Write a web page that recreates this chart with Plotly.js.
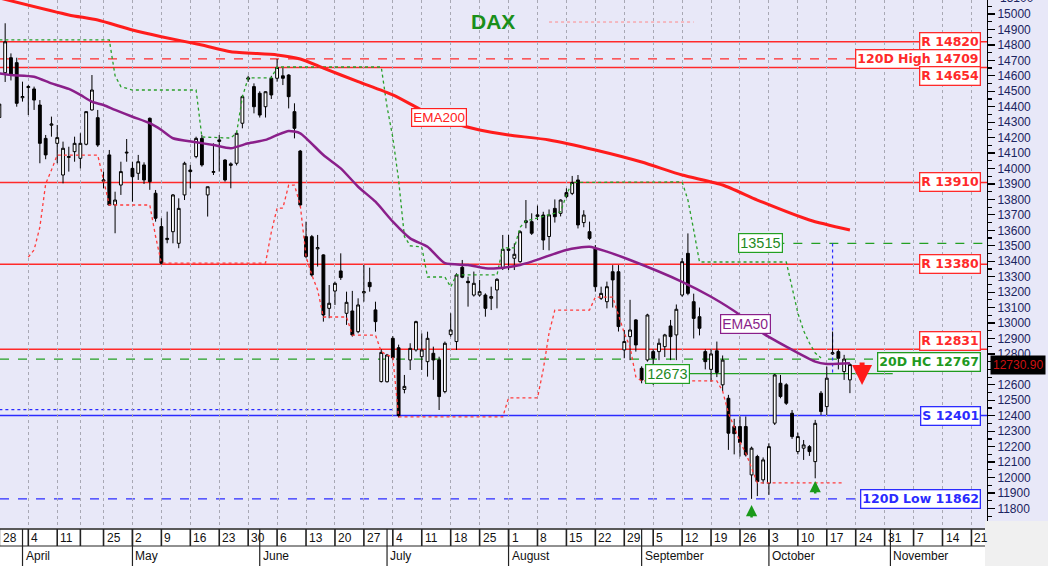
<!DOCTYPE html>
<html><head><meta charset="utf-8">
<script src="https://cdn.plot.ly/plotly-3.0.1.min.js"></script>
<style>html,body{margin:0;padding:0;background:#fff;}#chart{width:1048px;height:566px;}</style>
</head><body><div id="chart"></div>
<script>
// ---------- data ----------
const firstDay = '2022-03-28';
const lastDay = '2022-11-25';
const holidays = ['2022-04-15', '2022-04-18'];

const openP = [14330,14620,14717,14685,14458,14524,14515,14411,14195,14280,14163,13958,14072,14109,14066,14157,14379,14329,13918,14088,13764,13893,14100,14001,13969,14023,14325,13840,13624,13540,13591,13516,13829,13990,14077,14195,13829,13975,14175,14055,14020,14034,14293,14578,14530,14487,14400,14584,14584,14600,14605,14368,14113,13559,13559,13480,13441,13095,13207,13337,13063,13078,12944,13195,13263,13085,12621,12620,12901,12840,12570,12761,12826,12782,12750,12804,12761,12556,12925,12880,13361,13270,13181,13181,13181,13160,13214,13354,13470,13419,13397,13650,13656,13690,13699,13560,13742,13710,13844,13839,13926,13650,13591,13483,13160,13138,13332,13332,12826,12912,13020,12707,12761,12815,12815,12847,12981,12923,13181,13451,13138,13041,12815,12700,12820,12600,12513,12330,12330,12330,12017,12136,11985,11963,12352,12610,12600,12416,12168,12190,12200,12103,12546,12459,12800,12815,12686,12632];
const highP = [14470,14940,14745,14717,14562,14540,14530,14443,14217,14336,14282,14174,14141,14206,14228,14370,14605,14379,13980,14120,13850,14044,14191,14044,14088,14040,14330,13861,13678,13721,13835,13807,14044,14023,14206,14217,13882,14163,14217,14060,14040,14239,14476,14600,14551,14500,14500,14600,14709,14650,14610,14422,14120,13656,13570,13570,13445,13246,13268,13451,13203,13208,13160,13376,13358,13138,12830,12800,12915,12860,12664,12869,13015,12933,12944,12847,12782,12880,13063,13322,13408,13300,13333,13279,13192,13235,13290,13570,13570,13516,13600,13796,13710,13760,13720,13735,13800,13800,13872,13952,13958,13730,13656,13505,13235,13268,13375,13375,12955,13150,13025,12720,13060,12830,12900,12930,13020,13120,13420,13580,13190,13100,12830,12830,12880,12790,12535,12380,12395,12395,12200,12147,12130,12222,12670,12664,12610,12437,12290,12243,12210,12373,12560,12718,12945,12830,12794,12740];
const lowP = [14230,14560,14570,14400,14433,14346,14379,14034,14060,14206,14034,13904,13980,14044,14001,14150,14375,14140,13872,13760,13581,13829,14044,13785,13926,13900,13862,13656,13380,13516,13516,13484,13796,13872,14066,14012,13689,13958,13980,13915,13872,14020,14260,14560,14357,14330,14330,14450,14562,14540,14389,14195,13750,13420,13300,13365,13009,13031,13117,13279,12988,12912,12934,13138,13203,12944,12615,12615,12760,12390,12545,12696,12815,12696,12653,12632,12437,12545,12912,12826,13290,13106,13171,13171,13041,13084,13095,13343,13343,13343,13390,13613,13570,13666,13473,13470,13650,13690,13808,13828,13612,13620,13537,13203,13149,13095,13100,12945,12772,12760,12815,12610,12750,12600,12760,12780,12760,12760,13170,13180,12900,12920,12700,12620,12650,12560,12179,12150,12136,12136,11862,11880,11960,11888,12340,12513,12470,12250,12150,12114,12140,11995,12405,12405,12794,12700,12632,12546];
const closeP = [14417,14820,14605,14422,14466,14530,14443,14163,14088,14288,14200,14131,14077,14163,14163,14368,14508,14152,13926,13764,13796,13980,14105,13947,14044,13926,13915,13678,13387,13548,13829,13742,14034,13980,14195,14023,13882,13980,14185,13926,14030,14228,14465,14586,14400,14346,14497,14476,14654,14584,14465,14260,13764,13430,13311,13488,13052,13128,13257,13294,13134,12923,13117,13203,13235,13009,12810,12793,12775,12401,12590,12836,13009,12826,12901,12761,12524,12869,12955,13311,13296,13261,13257,13203,13095,13171,13283,13477,13479,13445,13591,13662,13581,13700,13537,13700,13688,13796,13818,13910,13635,13699,13548,13235,13192,13235,13279,12977,12880,12955,12858,12631,13052,12772,12869,12923,12912,13089,13397,13192,13030,12966,12750,12800,12680,12760,12287,12284,12227,12147,12190,11974,12114,12200,12664,12524,12481,12265,12265,12211,12168,12351,12427,12643,12808,12772,12767,12731];

// EMA lines (trading-day position, value)
const ema200Pos = [0,12,17,23,28,35,40,48,52,56,62,68,73,78,83,88,95,103,111,118,125,131,140,147];
const ema200Val = [15104,14994,14961,14896,14853,14799,14756,14735,14709,14650,14562,14476,14379,14301,14249,14217,14185,14120,14042,13958,13893,13796,13667,13602];
const ema50Pos = [0,2,6,9,12,14,16,18,20,23,26,28,30,34,37,40,43,46,48,50,52,56,59,62,65,68,71,74,77,81,84,86,90,92,98,102,105,109,118,123,128,132,136,141,143,147];
const ema50Val = [14616,14605,14594,14551,14515,14476,14432,14411,14379,14335,14293,14249,14196,14170,14152,14131,14163,14185,14217,14243,14228,14087,14001,13882,13785,13656,13548,13494,13387,13376,13354,13354,13376,13397,13473,13494,13462,13408,13267,13170,13052,12933,12847,12750,12735,12739];

// stepped channel lines
const upperPos = [0,19,20,21,23,34,35,40,41,42,43,47,48,66,67,68,69,70,71,73,74,77,78,79,86,87,89,90,91,93,97,98,99,118,119,120,121,136,137,138,139,140,141,142];
const upperVal = [14832,14832,14600,14530,14508,14508,14204,14197,14230,14463,14586,14586,14657,14657,14400,14200,13926,13560,13500,13492,13298,13298,13233,13311,13311,13486,13486,13620,13660,13680,13720,13829,13910,13913,13796,13602,13395,13395,13233,13065,12950,12871,12806,12774];
const lowerPos = [5,6,7,8,9,10,17,18,19,26,27,28,46,47,48,49,50,51,52,53,54,55,56,60,61,65,66,67,68,69,87,88,93,94,95,96,102,103,106,107,108,109,110,111,124,125,126,127,128,129,130,131,146];
const lowerVal = [13427,13473,13621,13900,13990,14087,14087,13930,13764,13764,13560,13388,13388,13589,13744,13744,13893,13893,13764,13430,13311,13214,13039,13039,12922,12922,12815,12793,12780,12392,12392,12515,12515,12700,12935,13084,13084,13168,13168,13052,12935,12845,12651,12625,12625,12560,12418,12327,12230,12159,12060,11965,11965];

// horizontal levels
const levelVals   = [14820, 14709, 14654, 13910, 13380, 12831, 12767, 12401, 11862];
const levelLabels = ['R 14820', '120D High 14709', 'R 14654', 'R 13910', 'R 13380', 'R 12831', '20D HC 12767', 'S 12401', '120D Low 11862'];
const levelKinds  = ['R', 'Hd', 'R', 'R', 'R', 'R', 'Gd', 'S', 'Sd'];
const extraLevels = {upper13515: 13515, close12673: 12673, dottedBlue: 12440};
const lastPrice = 12730.90;
const yTickVals = [11800,11900,12000,12100,12200,12300,12400,12500,12600,12700,12800,12900,13000,13100,13200,13300,13400,13500,13600,13700,13800,13900,14000,14100,14200,14300,14400,14500,14600,14700,14800,14900,15000];
const monthNames = ['January','February','March','April','May','June','July','August','September','October','November','December'];

// ---------- calendar ----------
function iso(d){return d.toISOString().slice(0,10);}
const days = [];
for (let d = new Date(firstDay + 'T00:00:00Z'); iso(d) <= lastDay; d.setUTCDate(d.getUTCDate()+1)) {
  const wd = d.getUTCDay();
  if (wd === 0 || wd === 6 || holidays.includes(iso(d))) continue;
  days.push({s: iso(d), wd: wd, day: d.getUTCDate(), month: d.getUTCMonth()});
}
const nC = closeP.length;
const xs = days.slice(0, nC).map((_, i) => i);

const weekStarts = [], monthStarts = [];
days.forEach((d, i) => {
  if (i === 0 || d.wd <= days[i-1].wd) weekStarts.push(i);
  if (i === 0 || d.month !== days[i-1].month) monthStarts.push(i);
});

const xRange = [0.109, 170.69];
const yRange = [11673.4, 15090.6];
const PH = 528;               // plot height in px
const PW = 987;               // plot width in px
const yp = Y => (PH - Y) / PH;

// ---------- traces ----------
const traces = [
  {type:'scatter', mode:'lines', x: lowerPos, y: lowerVal, line:{color:'#ff3b3b', width:1.3, dash:'dot'}, hoverinfo:'skip'},
  {type:'scatter', mode:'lines', x: upperPos, y: upperVal, line:{color:'#2aa02a', width:1.3, dash:'dot'}, hoverinfo:'skip'},
  {type:'scatter', mode:'lines', x: ema200Pos, y: ema200Val, line:{color:'#ff1c1c', width:3, shape:'spline', smoothing:0.6}, hoverinfo:'skip'},
  {type:'scatter', mode:'lines', x: ema50Pos, y: ema50Val, line:{color:'#8a1f8a', width:2.5, shape:'spline', smoothing:0.6}, hoverinfo:'skip'},
  {type:'candlestick', x: xs, open: openP, high: highP, low: lowP, close: closeP,
   increasing:{line:{color:'#000', width:1}, fillcolor:'#ffffff'},
   decreasing:{line:{color:'#000', width:1}, fillcolor:'#000000'},
   whiskerwidth:0, hoverinfo:'skip'}
];

// ---------- shapes ----------
const shapes = [];
const colR = '#ff2a2a', colG = '#23a023', colB = '#2b2bff';
levelVals.forEach((v, k) => {
  const kind = levelKinds[k];
  const color = kind[0] === 'R' || kind[0] === 'H' ? colR : (kind[0] === 'G' ? colG : colB);
  const dash = kind.length > 1 ? 'dash' : 'solid';
  shapes.push({type:'line', xref:'paper', yref:'y', x0:0, x1:1, y0:v, y1:v,
    line:{color: color, width: dash === 'solid' ? 1.5 : 1.2, dash: dash}, layer:'below'});
});
shapes.push({type:'line', xref:'x', yref:'y', x0:0, x1:68.4, y0:extraLevels.dottedBlue, y1:extraLevels.dottedBlue, line:{color:colB, width:1.2, dash:'dot'}, layer:'below'});
shapes.push({type:'line', xref:'x', yref:'y', x0:112, x1:154.4, y0:extraLevels.close12673, y1:extraLevels.close12673, line:{color:colG, width:1.3}, layer:'below'});
shapes.push({type:'line', xref:'x', yref:'y', x0:131, x1:xRange[1], y0:extraLevels.upper13515, y1:extraLevels.upper13515, line:{color:colG, width:1.2, dash:'dash'}, layer:'below'});
shapes.push({type:'line', xref:'x', yref:'y', x0:144, x1:144, y0:extraLevels.upper13515, y1:extraLevels.close12673, line:{color:colB, width:1.2, dash:'dot'}, layer:'below'});
shapes.push({type:'line', xref:'x', yref:'y', x0:95, x1:120, y0:14948, y1:14948, line:{color:'#ff8a8a', width:1, dash:'dot'}, layer:'below'});

// date strip
shapes.push({type:'rect', xref:'paper', yref:'paper', x0:0, x1:985/PW, y0:yp(528), y1:yp(566), fillcolor:'#ffffff', line:{width:0}});
shapes.push({type:'rect', xref:'paper', yref:'paper', x0:985/PW, x1:1048/PW, y0:yp(521), y1:yp(566), fillcolor:'#f0f0f0', line:{width:0}});
shapes.push({type:'line', xref:'paper', yref:'paper', x0:0, x1:985/PW, y0:yp(529), y1:yp(529), line:{color:'#222', width:1.5}});
shapes.push({type:'line', xref:'paper', yref:'paper', x0:0, x1:985/PW, y0:yp(546), y1:yp(546), line:{color:'#222', width:1}});
weekStarts.forEach(i => shapes.push({type:'line', xref:'x', yref:'paper', x0:i, x1:i, y0:yp(529), y1:yp(546), line:{color:'#222', width:1.6}}));
monthStarts.forEach(i => shapes.push({type:'line', xref:'x', yref:'paper', x0:i, x1:i, y0:yp(529), y1:yp(566), line:{color:'#222', width:1.2}}));

// ---------- annotations ----------
const ann = [];
const lvlFont = (c) => ({family:'DejaVu Sans, Arial, sans-serif', size:12.5, color:c});
const shiftMap = {'R 14654': -9, 'R 12831': 8, '20D HC 12767': -3};
levelVals.forEach((v, k) => {
  const kind = levelKinds[k];
  const color = kind[0] === 'R' || kind[0] === 'H' ? colR : (kind[0] === 'G' ? '#1f9a1f' : colB);
  ann.push({xref:'paper', yref:'y', x: 981/PW, y: v, xanchor:'right', yanchor:'middle', showarrow:false,
    text:'<b>' + levelLabels[k] + '</b>', font: lvlFont(color), bgcolor:'#ffffff', bordercolor: color, borderwidth:1.3, borderpad:1,
    yshift: shiftMap[levelLabels[k]] || 0});
});
ann.push({xref:'x', yref:'y', x:76, y:14327, showarrow:false, text:'EMA200', font:{family:'Arial', size:13.5, color:'#ff2020'}, bgcolor:'#fff', bordercolor:'#ff2020', borderwidth:1.2, borderpad:1});
ann.push({xref:'x', yref:'y', x:129, y:12994, showarrow:false, text:'EMA50', font:{family:'Arial', size:14, color:'#8a1f8a'}, bgcolor:'#fff', bordercolor:'#8a1f8a', borderwidth:1.2, borderpad:1});
ann.push({xref:'x', yref:'y', x:131.6, y:extraLevels.upper13515, showarrow:false, text:'13515', font:{family:'Arial', size:14.5, color:'#1f8a1f'}, bgcolor:'#fff', bordercolor:colG, borderwidth:1.2, borderpad:1});
ann.push({xref:'x', yref:'y', x:115.4, y:extraLevels.close12673, showarrow:false, text:'12673', font:{family:'Arial', size:14.5, color:'#1f8a1f'}, bgcolor:'#fff', bordercolor:colG, borderwidth:1.2, borderpad:1});
ann.push({xref:'paper', yref:'paper', x:493/PW, y:yp(22), yanchor:'middle', showarrow:false, text:'<b>DAX</b>', font:{family:'Arial', size:21, color:'#1a8f1a'}});
ann.push({xref:'paper', yref:'y', x:1.003, y:lastPrice, xanchor:'left', yanchor:'middle', showarrow:false, text:lastPrice.toFixed(2), font:{family:'Arial', size:12, color:'#d01010'}, bgcolor:'#000', borderpad:2});
ann.push({xref:'paper', yref:'paper', x:1, y:yp(-1.5), xanchor:'left', yanchor:'middle', xshift:11, showarrow:false, text:'15100', font:{family:'Arial', size:12, color:'#1b2460'}});
// arrows
ann.push({xref:'x', yref:'y', x:149.1, y:12599, ax:0, ay:-24, showarrow:true, arrowhead:2, arrowsize:0.8, arrowwidth:5, arrowcolor:'#ff1a1a', text:''});
ann.push({xref:'x', yref:'y', x:130, y:11822, ax:0, ay:14, showarrow:true, arrowhead:2, arrowsize:0.9, arrowwidth:2.5, arrowcolor:'#1a9a1a', text:''});
ann.push({xref:'x', yref:'y', x:141, y:11978, ax:0, ay:14, showarrow:true, arrowhead:2, arrowsize:0.9, arrowwidth:2.5, arrowcolor:'#1a9a1a', text:''});
// date strip labels
weekStarts.forEach(i => {
  if (days[i].wd !== 1) return;
  ann.push({xref:'x', yref:'paper', x: Math.max(i, xRange[0]), y: yp(538), xanchor:'left', yanchor:'middle', xshift:1,
    showarrow:false, text: String(days[i].day), font:{family:'Arial', size:12, color:'#111'}});
});
monthStarts.forEach(i => {
  if (i === 0) return;
  ann.push({xref:'x', yref:'paper', x: i, y: yp(556), xanchor:'left', yanchor:'middle', xshift:1,
    showarrow:false, text: monthNames[days[i].month], font:{family:'Arial', size:12, color:'#111'}});
});

const layout = {
  width:1048, height:566,
  margin:{l:0, r:61, t:0, b:38, pad:0},
  paper_bgcolor:'#e8e8f8', plot_bgcolor:'#e8e8f8',
  showlegend:false, dragmode:false,
  xaxis:{range:xRange, showticklabels:false, ticks:'', tickmode:'array', tickvals:weekStarts,
         showgrid:true, gridcolor:'#a8a8b4', griddash:'dot', gridwidth:1, zeroline:false, showline:false,
         rangeslider:{visible:false}, fixedrange:true},
  yaxis:{side:'right', range:yRange, tickmode:'array', tickvals:yTickVals, ticktext:yTickVals.map(String),
         ticks:'outside', ticklen:7, tickwidth:1.2, tickcolor:'#000',
         minor:{tickmode:'linear', tick0:50, dtick:100, ticks:'outside', ticklen:4, tickcolor:'#000', showgrid:false},
         showline:true, linecolor:'#000', linewidth:1, showgrid:false, zeroline:false,
         tickfont:{family:'Arial', size:12, color:'#1b2460'}, fixedrange:true},
  shapes: shapes, annotations: ann
};
Plotly.newPlot('chart', traces, layout, {staticPlot:true, displayModeBar:false});
</script></body></html>
